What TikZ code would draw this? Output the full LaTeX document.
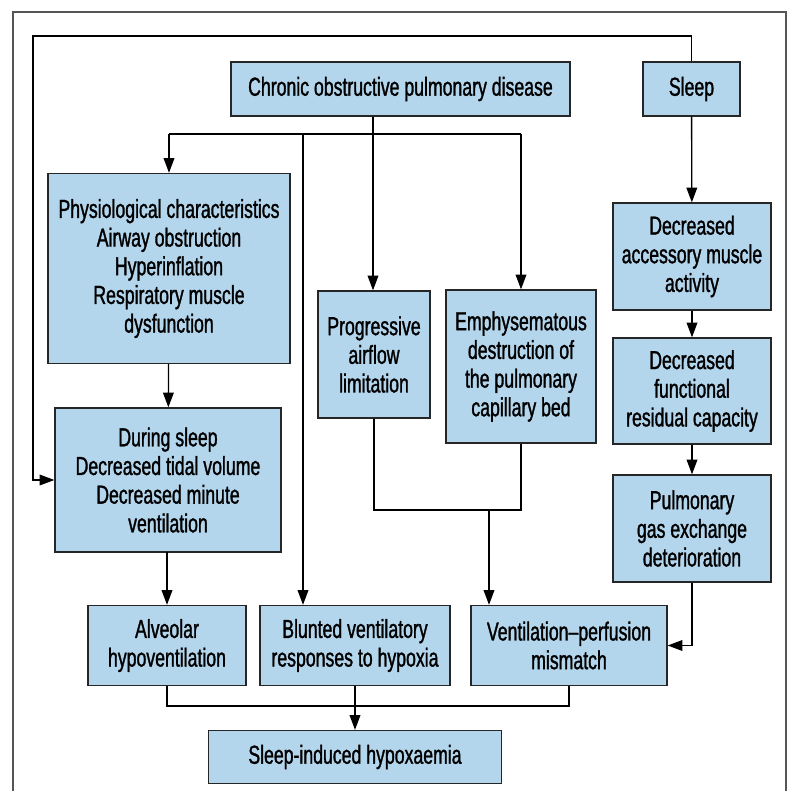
\documentclass[tikz,border=0pt]{standalone}
\usepackage{fontspec}
\setmainfont{Liberation Sans}[FakeStretch=0.68,FakeBold=1.2]
\usepackage{xcolor}
\usetikzlibrary{arrows.meta}
\definecolor{boxblue}{RGB}{180,214,237}
\definecolor{framegray}{RGB}{85,85,85}

\tikzset{
    box/.style={draw=black!85, fill=boxblue, line width=1pt, inner sep=0pt, align=center,
        font=\fontsize{19.5}{21.5}\selectfont}
}

\begin{document}
\begin{tikzpicture}[x=0.75pt,y=-0.75pt,>={Triangle[length=11pt,width=8pt]},line width=1pt]
    \useasboundingbox (0,0) rectangle (790,791);
    \draw[framegray,line width=1.9pt] (13,791) -- (13,12) -- (786,12) -- (786,791);

    % top row
    \node[box,minimum width=254.25pt,minimum height=40.5pt] (copd) at (400.5,89) {Chronic obstructive pulmonary disease};
    \node[box,minimum width=72.75pt,minimum height=40.5pt] (sleep) at (691.5,89) {Sleep};

    % middle
    \node[box,minimum width=181.5pt,minimum height=142.5pt] (phys) at (169,268.5) {Physiological characteristics\\Airway obstruction\\Hyperinflation\\Respiratory muscle\\dysfunction};
    \node[box,minimum width=169.5pt,minimum height=108pt] (during) at (168,480) {During sleep\\Decreased tidal volume\\Decreased minute\\ventilation};
    \node[box,minimum width=84pt,minimum height=95.25pt] (prog) at (374,354.5) {Progressive\\airflow\\limitation};
    \node[box,minimum width=112.5pt,minimum height=114.75pt] (emph) at (521,366.5) {Emphysematous\\destruction of\\the pulmonary\\capillary bed};
    \node[box,minimum width=118.5pt,minimum height=80.25pt] (acc) at (692,256.5) {Decreased\\accessory muscle\\activity};
    \node[box,minimum width=118.5pt,minimum height=79.5pt] (frc) at (692,391) {Decreased\\functional\\residual capacity};
    \node[box,minimum width=118.5pt,minimum height=80.25pt] (gas) at (692,528.5) {Pulmonary\\gas exchange\\deterioration};

    % bottom
    \node[box,minimum width=118.5pt,minimum height=60pt] (alv) at (167,645.5) {Alveolar\\hypoventilation};
    \node[box,minimum width=142.5pt,minimum height=60pt] (blunt) at (355,645.5) {Blunted ventilatory\\responses to hypoxia};
    \node[box,minimum width=147pt,minimum height=60pt] (vq) at (569,645.5) {Ventilation--perfusion\\mismatch};
    \node[box,minimum width=219.75pt,minimum height=39.75pt] (hyp) at (355,757) {Sleep-induced hypoxaemia};

    \coordinate (lp) at (33,36);
    \coordinate (j1) at (373,134);
    \coordinate (b1) at (303,134);
    \coordinate (m1) at (489,510);
    \coordinate (m2) at (355,706);

    % sleep loop
    \draw[->] (sleep.north) |- (lp) |- (during.west);
    \draw[->] (sleep) -- (acc);
    \draw[->] (acc) -- (frc);
    \draw[->] (frc) -- (gas);
    \draw[->] (gas.south) |- (vq.east);

    % from copd
    \draw[->] (copd.south -| j1) -- (j1 |- prog.north);
    \draw[->] (j1 -| emph.north) -- (emph.north);
    \draw[->] (j1 -| phys.north) -- (phys.north);
    \draw (j1 -| phys.north) -- (j1 -| emph.north);
    \draw[->] (b1) -- (b1 |- blunt.north);

    \draw[->] (phys) -- (during);
    \draw[->] (during.south) -- (during.south -| alv.north) -- (alv.north);

    % merge into vq
    \draw (prog.south) -- (prog.south |- m1) -- (emph.south |- m1) -- (emph.south);
    \draw[->] (m1) -- (m1 |- vq.north);

    % merge into hyp
    \draw (alv.south) -- (alv.south |- m2) -- (vq.south |- m2) -- (vq.south);
    \draw[->] (blunt.south) -- (hyp.north);
\end{tikzpicture}
\end{document}
